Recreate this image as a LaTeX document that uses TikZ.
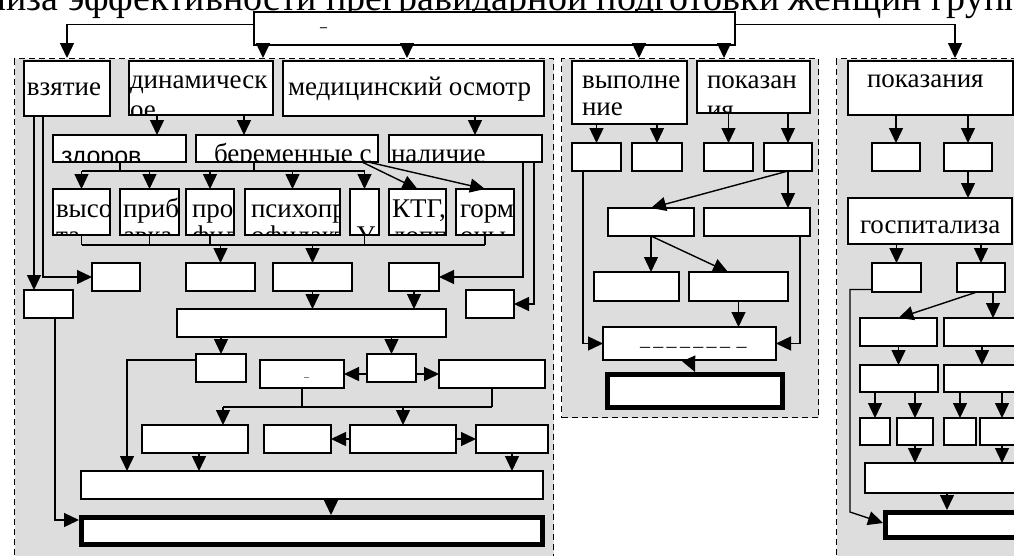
\documentclass[tikz,border=0pt]{standalone}
\usepackage{fontspec}
\setmainfont{Liberation Serif}
\setsansfont{Liberation Sans}
\usepackage{tikz}
\usetikzlibrary{arrows.meta,calc}
\definecolor{panelgray}{HTML}{DDDDDD}
\newcommand\boxfont{\fontsize{27}{27}\selectfont}
\newcommand\headfont{\fontsize{38}{40}\selectfont}
\newcommand\zdfont{\sffamily\fontsize{25}{25}\selectfont}
\newcommand\lskip{27}

\begin{document}
\begin{tikzpicture}[
  x=1pt,y=-1pt,
  box/.style={draw,fill=white,line width=1.4pt,anchor=north west,inner sep=0pt,outer sep=0pt},
  finbox/.style={box,line width=5pt,outer sep=2.5pt},
  panel/.style={draw,dash pattern=on 6pt off 4pt,fill=panelgray,line width=1.3pt,anchor=north west,inner sep=0pt},
  line/.style={line width=1.4pt},
  arr/.style={line,-{Triangle[length=15pt,width=14pt]}},
  tl/.style={anchor=base west,inner sep=0pt,minimum width=0pt,minimum height=0pt,font=\boxfont},
  lskip/.code={\renewcommand\lskip{#1}},
  lbl/.style n args={3}{path picture={
    \node[tl] at ([shift={(#1)}]path picture bounding box.north west) {#2};
    \node[tl] at ([shift={(#1)},yshift=-\lskip pt]path picture bounding box.north west) {#3};}}
]
\useasboundingbox (0,0) rectangle (1014,555);

\node[anchor=base west,inner sep=0pt,font=\headfont] (head) at (-67,10)
  {анализа эффективности прегравидарной подготовки женщин группы};

% panels
\node[panel,minimum width=539,minimum height=542] (pan1) at (14,58) {};
\node[panel,minimum width=257,minimum height=359] (pan2) at (561,58) {};
\node[panel,minimum width=204,minimum height=542] (pan3) at (836,58) {};

\node[box,minimum width=481,minimum height=33,lbl={66,19}{\bfseries\fontsize{14}{14}\selectfont –}{}] (title) at (254,12) {};

% left panel
\node[box,minimum width=86,minimum height=55,lbl={3,34}{взятие}{}] (vzyat) at (24,61) {};
\node[box,minimum width=144,minimum height=54,lskip=30,lbl={1,27}{динамическ}{ое}] (dinam) at (129,61) {};
\node[box,minimum width=261,minimum height=55,lbl={5,34}{медицинский осмотр}{}] (medos) at (283,61) {};
\node[box,minimum width=133,minimum height=27,lbl={8,29}{\zdfont здоров}{}] (zdor) at (53,135) {};
\node[box,minimum width=182,minimum height=27,lbl={18,27}{беременные с}{}] (berem) at (196,135) {};
\node[box,minimum width=153,minimum height=27,lbl={2,27}{наличие}{}] (nalich) at (389,135) {};

\node[box,minimum width=57,minimum height=46,lbl={3,28}{высо}{та}] (vys) at (53,189) {};
\node[box,minimum width=59,minimum height=46,lbl={3,28}{приб}{авка}] (prib) at (120,189) {};
\node[box,minimum width=48,minimum height=46,lbl={6,28}{про}{фил}] (prof) at (186,189) {};
\node[box,minimum width=95,minimum height=46,lbl={6,28}{психопр}{офилакт}] (psih) at (245,189) {};
\node[box,minimum width=29,minimum height=46,lbl={6,28}{}{У}] (u) at (350,189) {};
\node[box,minimum width=57,minimum height=46,lbl={3,28}{КТГ,}{допп}] (ktg) at (389,189) {};
\node[box,minimum width=58,minimum height=46,lbl={4,28}{горм}{оны}] (gorm) at (456,189) {};

\node[box,minimum width=48,minimum height=28] (a4) at (92,263) {};
\node[box,minimum width=69,minimum height=28] (b4) at (186,263) {};
\node[box,minimum width=79,minimum height=28] (c4) at (273,263) {};
\node[box,minimum width=50,minimum height=28] (d4) at (389,263) {};
\node[box,minimum width=49,minimum height=28] (lbox) at (24,290) {};
\node[box,minimum width=48,minimum height=28] (rbox) at (466,290) {};
\node[box,minimum width=269,minimum height=28] (wide) at (177,309) {};

\node[box,minimum width=50,minimum height=28] (e5) at (196,354) {};
\node[box,minimum width=84,minimum height=28,lbl={44,20}{\fontsize{10}{10}\selectfont –}{}] (dash5) at (260,360) {};
\node[box,minimum width=49,minimum height=28] (f5) at (367,354) {};
\node[box,minimum width=106,minimum height=28] (g5) at (439,360) {};

\node[box,minimum width=106,minimum height=28] (h6) at (142,425) {};
\node[box,minimum width=67,minimum height=28] (i6) at (264,425) {};
\node[box,minimum width=106,minimum height=28] (j6) at (350,425) {};
\node[box,minimum width=72,minimum height=28] (k6) at (476,425) {};
\node[box,minimum width=462,minimum height=28] (wide2) at (81,471) {};
\node[finbox,minimum width=461,minimum height=27] (fin1) at (79,515) {};

% middle panel
\node[box,minimum width=115,minimum height=63,lbl={10,27}{выполне}{ние}] (vyp) at (572,61) {};
\node[box,minimum width=113,minimum height=52,lskip=30,lbl={10,27}{показан}{ия}] (pok2) at (697,61) {};
\node[box,minimum width=49,minimum height=28] (q1) at (572,143) {};
\node[box,minimum width=50,minimum height=28] (q2) at (632,143) {};
\node[box,minimum width=49,minimum height=28] (q3) at (704,143) {};
\node[box,minimum width=48,minimum height=28] (q4) at (764,143) {};
\node[box,minimum width=86,minimum height=28] (pP) at (608,208) {};
\node[box,minimum width=106,minimum height=28] (pQ) at (704,208) {};
\node[box,minimum width=85,minimum height=29] (pR) at (594,272) {};
\node[box,minimum width=99,minimum height=29] (pS) at (689,272) {};
\node[box,minimum width=173,minimum height=33,lbl={37,25}{\fontsize{20}{20}\selectfont –\,–\,–\,–\,–\,–\,–\,\,–}{}] (pT) at (603,327) {};
\node[finbox,minimum width=175,minimum height=33] (fin2) at (605,372) {};

% right panel
\node[box,minimum width=165,minimum height=54,lbl={19,26}{показания}{}] (pok3) at (848,61) {};
\node[box,minimum width=48,minimum height=28] (r1) at (872,143) {};
\node[box,minimum width=48,minimum height=28] (r2) at (944,143) {};
\node[box,minimum width=164,minimum height=46,lbl={12,35}{госпитализа}{}] (gosp) at (848,198) {};
\node[box,minimum width=49,minimum height=29] (s1) at (872,263) {};
\node[box,minimum width=48,minimum height=29] (s2) at (957,263) {};
\node[box,minimum width=77,minimum height=28] (v1) at (860,318) {};
\node[box,minimum width=90,minimum height=28] (w1) at (944,318) {};
\node[box,minimum width=78,minimum height=27] (x1) at (860,365) {};
\node[box,minimum width=90,minimum height=27] (y1) at (944,365) {};
\node[box,minimum width=30,minimum height=27] (m1) at (860,418) {};
\node[box,minimum width=36,minimum height=27] (m2) at (897,418) {};
\node[box,minimum width=32,minimum height=27] (m3) at (944,418) {};
\node[box,minimum width=60,minimum height=27] (m4) at (980,418) {};
\node[box,minimum width=180,minimum height=30] (z1) at (865,463) {};
\node[finbox,minimum width=160,minimum height=25] (fin3) at (883,510) {};

% from the title
\draw[arr] ([yshift=4pt]title.west) -| (vzyat.north |- pan1.north);
\draw[arr] (title.south -| 263,0) -- (pan1.north -| 263,0);
\draw[arr] (title.south -| 407,0) -- (pan1.north -| 407,0);
\draw[arr] (title.south -| 639,0) -- (pan2.north -| 639,0);
\draw[arr] (title.south -| 724,0) -- (pan2.north -| 724,0);
\draw[arr] ([yshift=4pt]title.east) -| (pan3.north -| 955,0);

% left panel links
\draw[arr] (dinam.south -| 157,0) -- (zdor.north -| 157,0);
\draw[arr] (dinam.south -| 244,0) -- (berem.north -| 244,0);
\draw[arr] (medos.south -| 475,0) -- (nalich.north -| 475,0);
\coordinate (fanA) at (0,171);
\draw[line] (zdor.south -| 120,0) -- (fanA -| 120,0);
\draw[line] (berem.south -| 254,0) -- (fanA -| 254,0);
\draw[line] (fanA -| vys.north) -- (fanA -| u.north);
\foreach \b in {vys,prib,prof,psih,u}
  \draw[arr] (fanA -| \b.north) -- (\b.north);
\draw[arr] (berem.south -| 362,0) -- (ktg.north);
\draw[arr] (berem.south -| 368,0) -- (gorm.north);
\coordinate (fanB) at (0,245);
\foreach \b in {vys,prib,prof,u,gorm}
  \draw[line] (\b.south) -- (fanB -| \b.south);
\draw[line] (fanB -| vys.south) -- (fanB -| gorm.south);
\draw[arr] (fanB -| b4.north) -- (b4.north);
\draw[arr] (fanB -| c4.north) -- (c4.north);
\draw[arr] (vzyat.south -| 34,0) -- (lbox.north -| 34,0);
\draw[arr] (vzyat.south -| 43,0) |- (a4.west);
\draw[arr] (nalich.south -| 523,0) |- (d4.east);
\draw[arr] (nalich.south -| 534,0) |- (rbox.east);
\draw[arr] (c4.south) -- (wide.north -| c4.south);
\draw[arr] (d4.south) -- (wide.north -| d4.south);
\draw[arr] (wide.south -| e5.north) -- (e5.north);
\draw[arr] (wide.south -| f5.north) -- (f5.north);
\draw[arr] ([yshift=8pt]e5.west) -| (wide2.north -| 127,0);
\draw[arr] (f5.west |- dash5.east) -- (dash5.east);
\draw[arr] (f5.east |- g5.west) -- (g5.west);
\coordinate (fanC) at (0,407);
\draw[line] (dash5.south) -- (fanC -| dash5.south);
\draw[line] (g5.south) -- (fanC -| g5.south);
\draw[line] (fanC -| 223,0) -- (fanC -| g5.south);
\draw[arr] (fanC -| 223,0) -- (h6.north -| 223,0);
\draw[arr] (fanC -| j6.north) -- (j6.north);
\draw[arr] (j6.west) -- (i6.east);
\draw[arr] (j6.east) -- (k6.west);
\draw[arr] (h6.south -| 199,0) -- (wide2.north -| 199,0);
\draw[arr] (k6.south -| 512,0) -- (wide2.north -| 512,0);
\draw[arr] (wide2.south -| 331,0) -- (fin1.north -| 331,0);
\draw[arr] (lbox.south -| 55,0) |- ([yshift=11pt]fin1.west);

% middle panel links
\draw[arr] (vyp.south -| q1.north) -- (q1.north);
\draw[arr] (vyp.south -| q2.north) -- (q2.north);
\draw[arr] (pok2.south -| q3.north) -- (q3.north);
\draw[arr] (pok2.south -| q4.north) -- (q4.north);
\draw[arr] (q4.south) -- (pP.north);
\draw[arr] (q4.south) -- (pQ.north -| q4.south);
\draw[arr] (pP.south) -- (pR.north -| pP.south);
\draw[arr] (pP.south) -- (pS.north -| 728,0);
\draw[arr] (pS.south) -- (pT.north -| pS.south);
\draw[arr] (q1.south -| 583,0) |- (pT.west);
\draw[arr] (pQ.south -| 800,0) |- (pT.east);
\draw[arr] (pT.south) -- (fin2.north);

% right panel links
\draw[arr] (pok3.south -| r1.north) -- (r1.north);
\draw[arr] (pok3.south -| r2.north) -- (r2.north);
\draw[arr] (r2.south) -- (gosp.north -| r2.south);
\draw[arr] (gosp.south -| s1.north) -- (s1.north);
\draw[arr] (gosp.south -| s2.north) -- (s2.north);
\draw[arr] (s2.south -| 977,0) -- (v1.north);
\draw[arr] (s2.south -| 993,0) -- (w1.north -| 993,0);
\draw[arr] (v1.south) -- (x1.north -| v1.south);
\draw[arr] (w1.south -| 982,0) -- (y1.north -| 982,0);
\draw[arr] (x1.south -| m1.north) -- (m1.north);
\draw[arr] (x1.south -| m2.north) -- (m2.north);
\draw[arr] (y1.south -| m3.north) -- (m3.north);
\draw[arr] (y1.south -| 1002,0) -- (m4.north -| 1002,0);
\draw[arr] (m2.south) -- (z1.north -| m2.south);
\draw[arr] (m4.south -| 1002,0) -- (z1.north -| 1002,0);
\draw[arr] (z1.south -| 947,0) -- (fin3.north -| 947,0);
\coordinate (bendL) at (850,512);
\draw[arr] ([yshift=-12pt]s1.west) -| (bendL) -- ([yshift=2pt]fin3.west);
\end{tikzpicture}
\end{document}
